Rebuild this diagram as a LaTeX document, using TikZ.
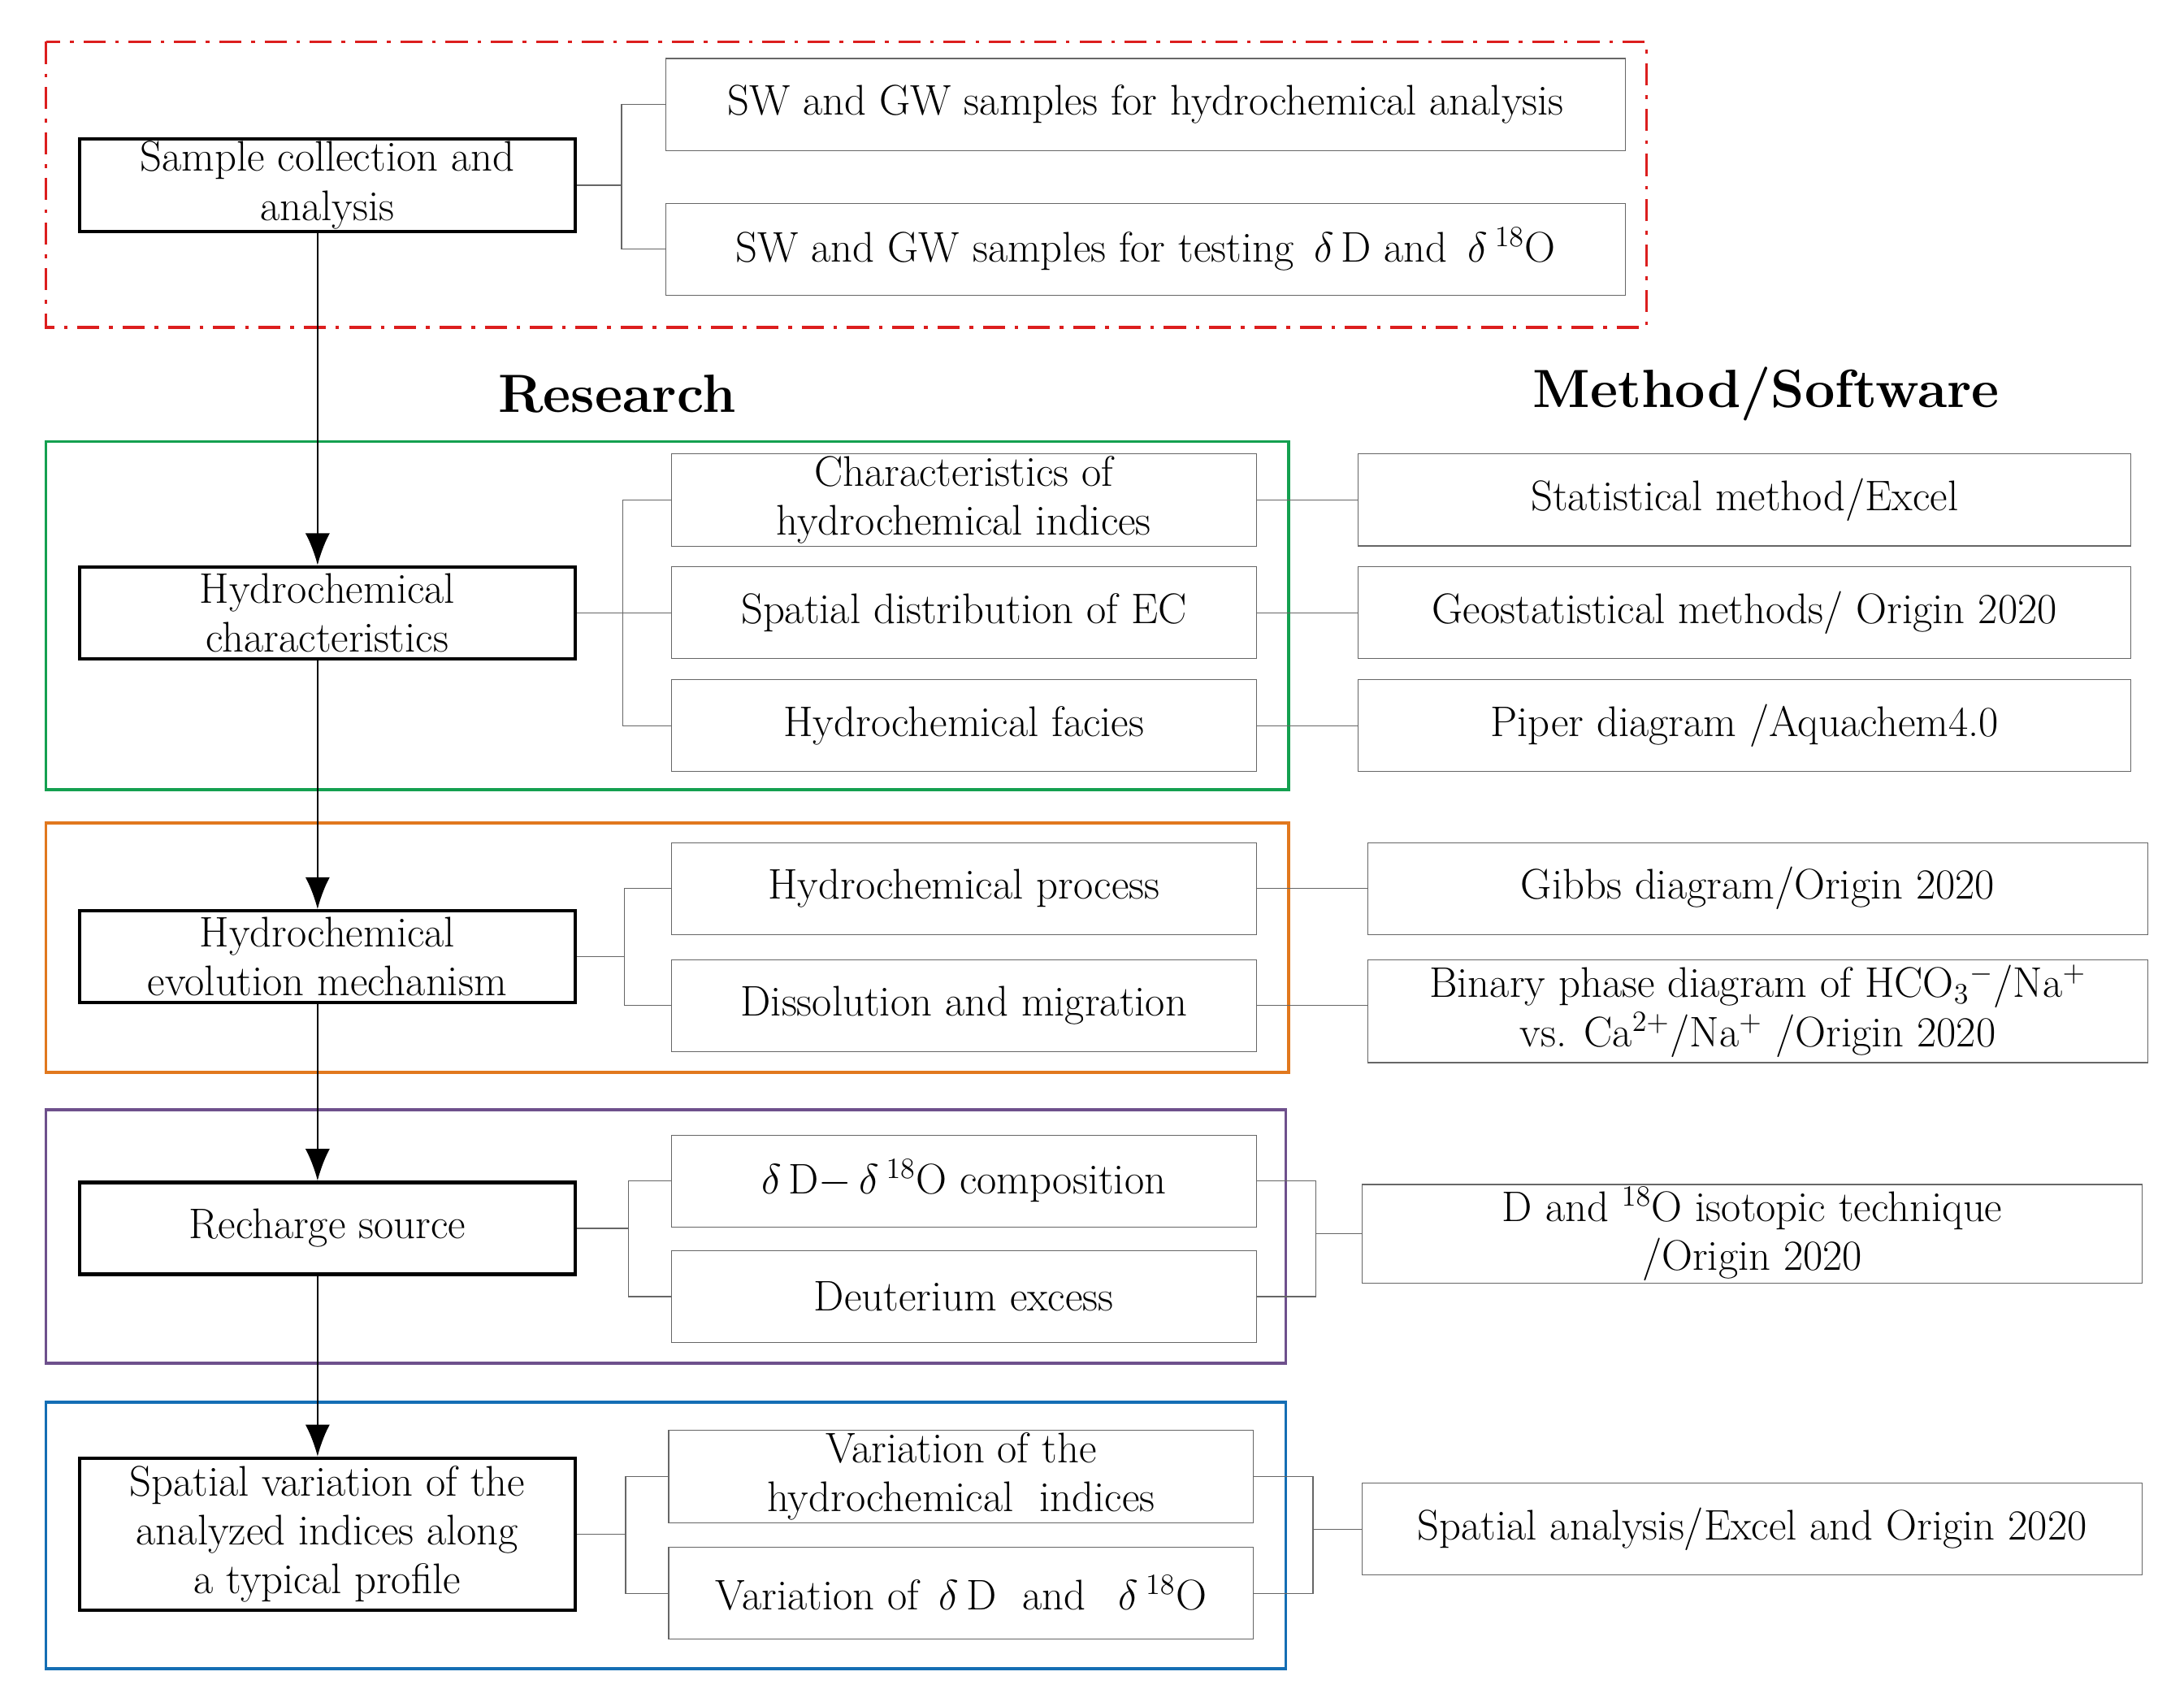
\documentclass[tikz,border=0pt]{standalone}
\usepackage{amsmath}
\usepackage{tikz}
\usetikzlibrary{arrows.meta}
\definecolor{frred}{RGB}{220,30,30}
\definecolor{frgreen}{RGB}{20,160,80}
\definecolor{frorange}{RGB}{225,120,30}
\definecolor{frpurple}{RGB}{110,80,140}
\definecolor{frblue}{RGB}{20,110,180}

\tikzset{
  main/.style={draw, line width=1.4pt, minimum width=7.12cm, minimum height=1.32cm, align=center, inner sep=1pt},
  sub/.style={draw=black!60, minimum width=8.4cm, minimum height=1.32cm, align=center, inner sep=1pt},
  meth/.style={draw=black!60, minimum width=11.1cm, minimum height=1.32cm, align=center, inner sep=1pt},
  link/.style={draw=black!60},
  flow/.style={line width=0.8pt, -{Latex[length=13pt,width=10pt]}},
  frame/.style={line width=1.2pt}
}

\begin{document}
\begin{tikzpicture}[x=0.02cm, y=-0.02cm, font=\fontsize{17.5}{20}\selectfont]
        \useasboundingbox (0,0) rectangle (1568,1222);

        % Rahmen
        \draw[frame, frred, dash pattern=on 9pt off 4pt on 1.5pt off 4pt] (33,30) rectangle (1182,235);
        \draw[frame, frgreen] (33,317) rectangle (925,567);
        \draw[frame, frorange] (33,591) rectangle (925,770);
        \draw[frame, frpurple] (33,797) rectangle (923,979);
        \draw[frame, frblue] (33,1007) rectangle (923,1198);

        % Ueberschriften
        \node[font=\fontsize{22}{26}\selectfont\bfseries] (hres) at (443,283) {Research};
        \node[font=\fontsize{22}{26}\selectfont\bfseries] (hmeth) at (1268,283) {Method/Software};

        % Stufe 1
        \node[main] (s1) at (235,133) {Sample collection and\\analysis};
        \node[sub, minimum width=13.78cm] (s1a) at (822.5,75) {SW and GW samples for hydrochemical analysis};
        \node[sub, minimum width=13.78cm] (s1b) at (822.5,179) {SW and GW samples for testing \,$\delta$\,D and \,$\delta$\,$^{18}$O};
        \draw[link] (s1.east) -- ++(32,0) coordinate (b1);
        \draw[link] (s1a.west) -| (b1) |- (s1b.west);

        % Stufe 2
        \node[main] (s2) at (235,440) {Hydrochemical\\characteristics};
        \node[sub] (s2a) at (692,359) {Characteristics of\\hydrochemical indices};
        \node[sub] (s2b) at (692,440) {Spatial distribution of EC};
        \node[sub] (s2c) at (692,521) {Hydrochemical facies};
        \node[meth] (m2a) at (1252.5,359) {Statistical method/Excel};
        \node[meth] (m2b) at (1252.5,440) {Geostatistical methods/ Origin 2020};
        \node[meth] (m2c) at (1252.5,521) {Piper diagram /Aquachem4.0};
        \draw[link] (s2.east) -- ++(33,0) coordinate (b2);
        \draw[link] (s2a.west) -| (b2) |- (s2c.west);
        \draw[link] (b2) -- (s2b.west);
        \foreach \i in {a,b,c} {
            \draw[link] (s2\i.east) -- (m2\i.west);
        }

        % Stufe 3
        \node[main] (s3) at (235,687) {Hydrochemical\\evolution mechanism};
        \node[sub] (s3a) at (692,638) {Hydrochemical process};
        \node[sub] (s3b) at (692,722) {Dissolution and migration};
        \node[meth, minimum width=11.2cm] (m3a) at (1262,638) {Gibbs diagram/Origin 2020};
        \node[meth, minimum width=11.2cm, minimum height=1.48cm] (m3b) at (1262,726) {Binary phase diagram of HCO$_3{}^{-}$/Na$^{+}$\\vs. Ca$^{2+}$/Na$^{+}$ /Origin 2020};
        \draw[link] (s3.east) -- ++(34,0) coordinate (b3);
        \draw[link] (s3a.west) -| (b3) |- (s3b.west);
        \draw[link] (s3a.east) -- (m3a.west);
        \draw[link] (s3b.east) -- (s3b.east -| m3b.west);

        % Stufe 4
        \node[main] (s4) at (235,882) {Recharge source};
        \node[sub] (s4a) at (692,848) {$\delta$\,D$-$\,$\delta$\,$^{18}$O composition};
        \node[sub] (s4b) at (692,931) {Deuterium excess};
        \node[meth, minimum width=11.2cm] (m4) at (1258,886) {D and $^{18}$O isotopic technique\\/Origin 2020};
        \draw[link] (s4.east) -- ++(37,0) coordinate (b4);
        \draw[link] (s4a.west) -| (b4) |- (s4b.west);
        \draw[link] (m4.west) -- ++(-33,0) coordinate (c4);
        \draw[link] (s4a.east) -| (c4) |- (s4b.east);

        % Stufe 5
        \node[main, minimum height=2.18cm] (s5) at (235,1101.5) {Spatial variation of the\\analyzed indices along\\a typical profile};
        \node[sub] (s5a) at (690,1060) {Variation of the\\hydrochemical \ indices};
        \node[sub] (s5b) at (690,1144) {Variation of \,$\delta$\,D \ and \ \,$\delta$\,$^{18}$O};
        \node[meth, minimum width=11.2cm] (m5) at (1258,1098) {Spatial analysis/Excel and Origin 2020};
        \draw[link] (s5.east) -- ++(35,0) coordinate (b5);
        \draw[link] (s5a.west) -| (b5) |- (s5b.west);
        \draw[link] (m5.west) -- ++(-35,0) coordinate (c5);
        \draw[link] (s5a.east) -| (c5) |- (s5b.east);

        % Hauptpfeile
        \draw[flow] (s1.south -| 228,0) -- (s2.north -| 228,0);
        \draw[flow] (s2.south -| 228,0) -- (s3.north -| 228,0);
        \draw[flow] (s3.south -| 228,0) -- (s4.north -| 228,0);
        \draw[flow] (s4.south -| 228,0) -- (s5.north -| 228,0);
\end{tikzpicture}
\end{document}
